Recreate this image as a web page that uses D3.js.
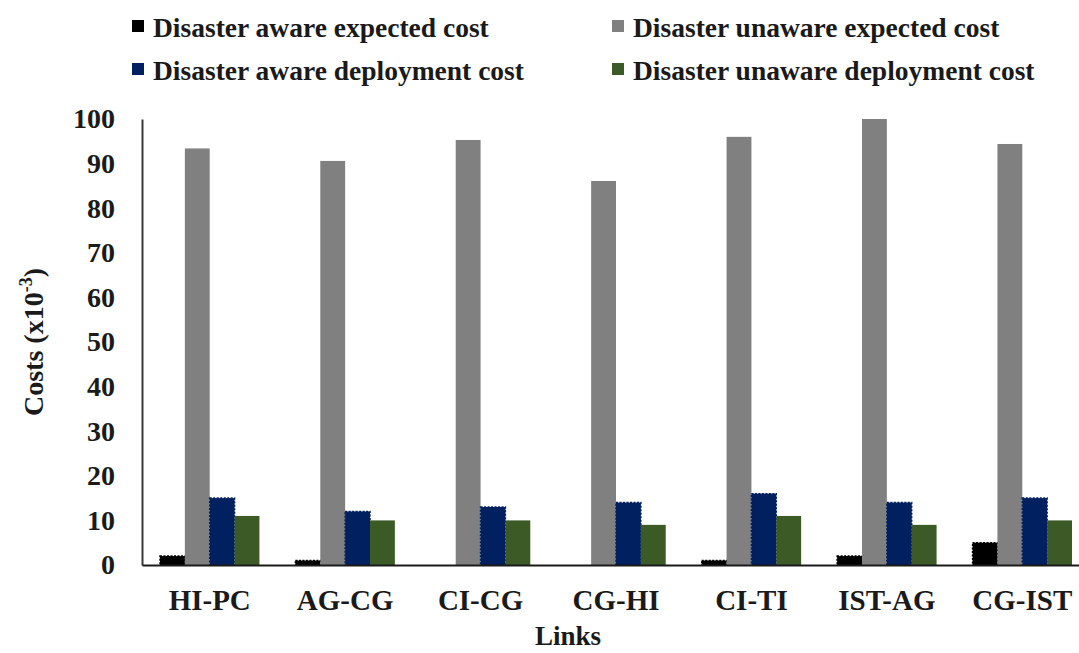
<!DOCTYPE html>
<html>
<head>
<meta charset="utf-8">
<script src="https://cdn.jsdelivr.net/npm/d3@7"></script>
<style>
  html, body { margin: 0; padding: 0; background: #fff; }
  svg { display: block; }
  text { font-family: "Liberation Serif", "Times New Roman", serif; font-weight: bold; fill: #1a1a1a; }
</style>
</head>
<body>
<svg id="chart" width="1079" height="653"></svg>
<script>
// Link names along the x axis
const links = ["HI-PC", "AG-CG", "CI-CG", "CG-HI", "CI-TI", "IST-AG", "CG-IST"];

// Cost series (x10^-3)
const awareExpected     = [2, 1, 0, 0, 1, 2, 5];
const unawareExpected   = [93.4, 90.6, 95.3, 86.1, 96, 100, 94.4];
const awareDeployment   = [15, 12, 13, 14, 16, 14, 15];
const unawareDeployment = [11, 10, 10, 9, 11, 9, 10];

const seriesNames = [
  "Disaster aware expected cost",
  "Disaster unaware expected cost",
  "Disaster aware deployment cost",
  "Disaster unaware deployment cost"
];
const yTicks = [0, 10, 20, 30, 40, 50, 60, 70, 80, 90, 100];

// Bar order within each group
const series = [
  { name: seriesNames[0], values: awareExpected,     color: "#000000", dashed: true },
  { name: seriesNames[1], values: unawareExpected,   color: "#808080", dashed: false },
  { name: seriesNames[2], values: awareDeployment,   color: "#002060", dashed: true },
  { name: seriesNames[3], values: unawareDeployment, color: "#3b5a26", dashed: false }
];

const svg = d3.select("#chart");
const plot = { left: 142, right: 1090, top: 119, bottom: 565 };

const x0 = d3.scaleBand().domain(links).range([plot.left, plot.right]).paddingInner(0).paddingOuter(0);
const groupPad = 18;
const x1 = d3.scaleBand().domain(d3.range(series.length))
  .range([groupPad, x0.bandwidth() - groupPad]).padding(0);
const y = d3.scaleLinear().domain([0, 100]).range([plot.bottom, plot.top]);

// Bars
series.forEach((s, si) => {
  svg.append("g").selectAll("rect")
    .data(s.values.map((v, i) => ({ v, link: links[i] })))
    .join("rect")
    .attr("x", d => x0(d.link) + x1(si))
    .attr("y", d => y(d.v))
    .attr("width", x1.bandwidth())
    .attr("height", d => y(0) - y(d.v))
    .attr("fill", s.color)
    .attr("stroke", s.dashed ? s.color : "none")
    .attr("stroke-width", s.dashed ? 1.5 : 0)
    .attr("stroke-dasharray", s.dashed ? "2,1.5" : null);
});

// Y axis (labels only, with a vertical rule)
const yAxis = d3.axisLeft(y).tickValues(yTicks).tickSize(0).tickPadding(27);
const yg = svg.append("g").attr("transform", `translate(${plot.left},0)`).call(yAxis);
yg.select(".domain").attr("stroke", "#3a3a3a").attr("stroke-width", 2);
yg.selectAll("text").attr("font-size", 28).attr("fill", "#1a1a1a")
  .style("font-family", '"Liberation Serif", serif').style("font-weight", "bold");

// X axis baseline and link labels
const xAxis = d3.axisBottom(x0).tickSize(0).tickPadding(24);
const xg = svg.append("g").attr("transform", `translate(0,${plot.bottom})`).call(xAxis);
xg.select(".domain").attr("stroke", "#1a1a1a").attr("stroke-width", 2);
xg.selectAll("text").attr("font-size", 29).attr("fill", "#1a1a1a")
  .style("font-family", '"Liberation Serif", serif').style("font-weight", "bold");

// Axis titles
svg.append("text").attr("x", 568).attr("y", 645).attr("text-anchor", "middle")
  .attr("font-size", 27).text("Links");

const yt = svg.append("text")
  .attr("transform", "translate(43,342) rotate(-90)")
  .attr("text-anchor", "middle").attr("font-size", 28);
yt.append("tspan").text("Costs (x10");
yt.append("tspan").attr("dy", -11).attr("font-size", 18).text("-3");
yt.append("tspan").attr("dy", 11).text(")");

// Legend
const legendPos = [
  { x: 132, y: 37 }, { x: 612, y: 37 },
  { x: 132, y: 80 }, { x: 612, y: 80 }
];
const legend = svg.append("g").selectAll("g").data(series).join("g")
  .attr("transform", (d, i) => `translate(${legendPos[i].x},${legendPos[i].y})`);
legend.append("rect").attr("x", 0).attr("y", -17).attr("width", 12).attr("height", 12)
  .attr("fill", d => d.color);
legend.append("text").attr("x", 21).attr("y", 0).attr("font-size", 27.5).text(d => d.name);
</script>
</body>
</html>
